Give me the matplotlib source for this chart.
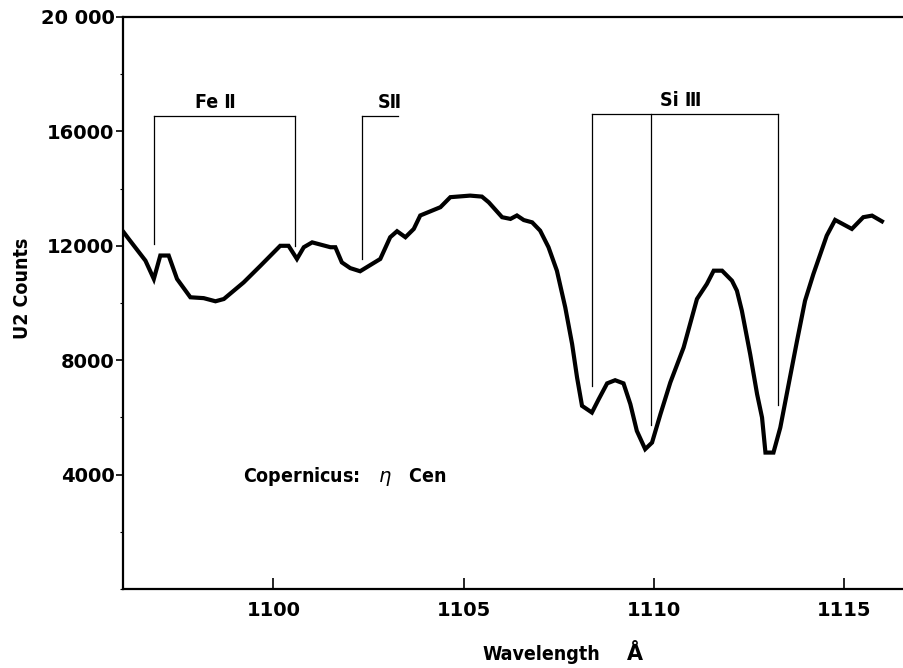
import matplotlib
matplotlib.use("Agg")
import matplotlib.pyplot as plt
from matplotlib.ticker import MultipleLocator, FixedLocator

plt.rcParams['font.family'] = ['DejaVu Sans']

wavelength = [1096.07, 1096.20, 1096.64, 1096.86, 1097.03, 1097.25, 1097.47, 1097.82,
              1098.17, 1098.48, 1098.70, 1099.22, 1099.66, 1100.18, 1100.40, 1100.62,
              1100.80, 1101.02, 1101.50, 1101.63, 1101.80, 1102.02, 1102.28, 1102.81,
              1103.07, 1103.25, 1103.47, 1103.69, 1103.86, 1104.39, 1104.65, 1105.17,
              1105.48, 1105.66, 1106.01, 1106.23, 1106.40, 1106.58, 1106.80, 1107.01,
              1107.23, 1107.45, 1107.67, 1107.85, 1107.98, 1108.11, 1108.37, 1108.55,
              1108.77, 1108.98, 1109.20, 1109.38, 1109.55, 1109.77, 1109.95, 1110.17,
              1110.43, 1110.78, 1111.13, 1111.39, 1111.57, 1111.79, 1112.05, 1112.18,
              1112.31, 1112.53, 1112.71, 1112.84, 1112.93, 1113.14, 1113.32, 1113.54,
              1113.76, 1113.97, 1114.19, 1114.54, 1114.76, 1115.20, 1115.50, 1115.73,
              1115.99]
counts = [12470, 12240, 11480, 10840, 11660, 11660, 10840, 10200,
          10170, 10060, 10140, 10720, 11300, 12000, 12000, 11540,
          11950, 12120, 11950, 11950, 11420, 11220, 11110, 11540,
          12300, 12510, 12300, 12590, 13060, 13350, 13700, 13755,
          13720, 13520, 13000, 12940, 13060, 12900, 12820, 12530,
          11950, 11130, 9845, 8565, 7395, 6405, 6170, 6640,
          7190, 7300, 7190, 6465, 5530, 4890, 5120, 6110,
          7220, 8445, 10140, 10665, 11130, 11130, 10780, 10430,
          9730, 8200, 6815, 5995, 4770, 4770, 5645, 7165,
          8680, 10080, 11015, 12355, 12905, 12590, 13000, 13055,
          12855]

# line identifications
fe_lines = [1096.87, 1100.58]
fe_bottoms = [12075, 12005]
fe_top = 16555
s_line = [1102.34, 1103.28]
s_bottom = 11550
s_top = 16555
si_lines = [1108.37, 1109.93, 1113.27]
si_bottoms = [7105, 5740, 6440]
si_top = 16625

ion_labels = ['Fe Ⅱ', 'SⅡ', 'Si Ⅲ']
ion_label_x = [1098.48, 1103.07, 1110.69]
ion_label_y = [16555, 16555, 16625]

x_ticks = [1100, 1105, 1110, 1115]
x_tick_labels = ['1100', '1105', '1110', '1115']
y_ticks = [4000, 8000, 12000, 16000, 20000]
y_tick_labels = ['4000', '8000', '12000', '16000', '20 000']

fig = plt.figure(figsize=(9.04, 6.68), dpi=100)
ax = fig.add_axes([123/904, 1 - 589/668, 1 - 123/904, (589 - 17)/668])

ax.plot(wavelength, counts, color='black', lw=3.0, solid_joinstyle='miter')

mlw = 0.9
# Fe II bracket
ax.plot([fe_lines[0], fe_lines[1]], [fe_top, fe_top], color='black', lw=mlw)
for xl, yb in zip(fe_lines, fe_bottoms):
    ax.plot([xl, xl], [yb, fe_top], color='black', lw=mlw)

# S II
ax.plot([s_line[0], s_line[0]], [s_bottom, s_top], color='black', lw=mlw)
ax.plot([s_line[0], s_line[1]], [s_top, s_top], color='black', lw=mlw)

# Si III
ax.plot([si_lines[0], si_lines[-1]], [si_top, si_top], color='black', lw=mlw)
for xl, yb in zip(si_lines, si_bottoms):
    ax.plot([xl, xl], [yb, si_top], color='black', lw=mlw)

for lab, lx, ly in zip(ion_labels, ion_label_x, ion_label_y):
    ax.text(lx, ly + 130, lab, ha='center', va='bottom',
            fontsize=14, fontweight='bold', fontstretch='condensed')

ax.text(1099.19, 3920, 'Copernicus:   $\\eta$   Cen', ha='left', va='center',
        fontsize=14, fontweight='bold', fontstretch='condensed')

ax.set_xlim(1096.05, 1116.57)
ax.set_ylim(0, 20000)

ax.spines['right'].set_visible(False)
for s in ['left', 'top', 'bottom']:
    ax.spines[s].set_linewidth(1.6)

ax.xaxis.set_major_locator(FixedLocator(x_ticks))
ax.set_xticklabels(x_tick_labels)
ax.yaxis.set_major_locator(FixedLocator(y_ticks))
ax.set_yticklabels(y_tick_labels)
ax.yaxis.set_minor_locator(MultipleLocator(2000))

ax.tick_params(axis='x', which='major', direction='in', length=8, width=1.2,
               pad=9, labelsize=14, top=False)
ax.tick_params(axis='y', which='major', direction='out', length=5, width=1.2,
               pad=1, labelsize=14, right=False)
ax.tick_params(axis='y', which='minor', direction='out', length=2, width=0.8,
               right=False)
for lbl in ax.get_xticklabels() + ax.get_yticklabels():
    lbl.set_fontweight('bold')

ax.set_ylabel('U2 Counts', fontsize=14, fontweight='bold', fontstretch='condensed')
ax.yaxis.set_label_coords(-0.117, 0.526)

fig.text(482/904, 1 - 654/668, 'Wavelength', ha='left', va='center',
         fontsize=14, fontweight='bold', fontstretch='condensed')
fig.text(635/904, 1 - 654/668, 'Å', ha='center', va='center',
         fontsize=15, fontweight='bold')

fig.savefig('out.png', dpi=100)
